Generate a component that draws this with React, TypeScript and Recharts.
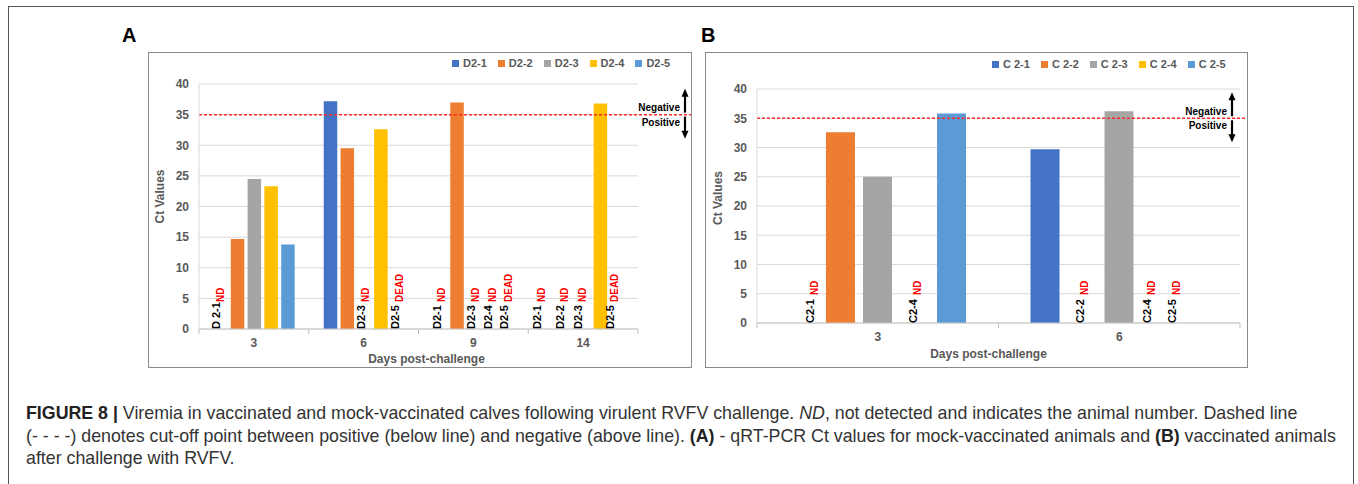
import React from 'react';
import { BarChart, Bar, XAxis, YAxis, CartesianGrid, ReferenceLine, Legend } from 'recharts';

// ---------- data: panel A (mock-vaccinated) ----------
const daysA = ['3', '6', '9', '14'];
const seriesA = ['D2-1', 'D2-2', 'D2-3', 'D2-4', 'D2-5'];
const ctA1 = [null, 37.2, null, null];
const ctA2 = [14.7, 29.5, 37.0, null];
const ctA3 = [24.5, null, null, null];
const ctA4 = [23.3, 32.6, null, 36.8];
const ctA5 = [13.8, null, null, null];
const noteA1 = ['ND', '', 'ND', 'ND'];
const noteA2 = ['', '', '', 'ND'];
const noteA3 = ['', 'ND', 'ND', 'ND'];
const noteA4 = ['', '', 'ND', ''];
const noteA5 = ['', 'DEAD', 'DEAD', 'DEAD'];
const tagA1 = ['D 2-1', '', 'D2-1', 'D2-1'];
const tagA2 = ['', '', '', 'D2-2'];
const tagA3 = ['', 'D2-3', 'D2-3', 'D2-3'];
const tagA4 = ['', '', 'D2-4', ''];
const tagA5 = ['', 'D2-5', 'D2-5', 'D2-5'];

// ---------- data: panel B (vaccinated) ----------
const daysB = ['3', '6'];
const seriesB = ['C 2-1', 'C 2-2', 'C 2-3', 'C 2-4', 'C 2-5'];
const ctB1 = [null, 29.7];
const ctB2 = [32.6, null];
const ctB3 = [25.0, 36.2];
const ctB4 = [null, null];
const ctB5 = [35.8, null];
const noteB1 = ['ND', ''];
const noteB2 = ['', 'ND'];
const noteB3 = ['', ''];
const noteB4 = ['ND', 'ND'];
const noteB5 = ['', 'ND'];
const tagB1 = ['C2-1', ''];
const tagB2 = ['', 'C2-2'];
const tagB3 = ['', ''];
const tagB4 = ['C2-4', 'C2-4'];
const tagB5 = ['', 'C2-5'];

const cutoff = 35;
const yTicks = [0, 5, 10, 15, 20, 25, 30, 35, 40];

// ---------- styling ----------
const colors = ['#4472C4', '#ED7D31', '#A5A5A5', '#FFC000', '#5B9BD5'];
const FONT = "'Liberation Sans', Arial, Helvetica, sans-serif";
const AXIS_GRAY = '#595959';
// small manual nudges of the annotation text boxes (px), keyed "series|day"
const nudgeA: Record<string, number> = { '0|3': -2, '0|14': -10, '1|14': -4, '2|14': -3, '4|14': -4 };
const nudgeB: Record<string, number> = { '0|3': 8, '3|6': -7, '4|6': -19 };

function buildRows(days: string[], values: (number | null)[][], notes: string[][], tags: string[][]) {
  return days.map((d, i) => {
    const row: any = { day: d };
    values.forEach((v, k) => {
      row['v' + k] = v[i];
      row['n' + k] = notes[k][i];
      row['g' + k] = tags[k][i];
    });
    return row;
  });
}

const rowsA = buildRows(
  daysA,
  [ctA1, ctA2, ctA3, ctA4, ctA5],
  [noteA1, noteA2, noteA3, noteA4, noteA5],
  [tagA1, tagA2, tagA3, tagA4, tagA5]
);
const rowsB = buildRows(
  daysB,
  [ctB1, ctB2, ctB3, ctB4, ctB5],
  [noteB1, noteB2, noteB3, noteB4, noteB5],
  [tagB1, tagB2, tagB3, tagB4, tagB5]
);

type TickCfg = {
  rows: any[];
  nSeries: number;
  band: number;
  barSize: number;
  barGap: number;
  rise: number;
  nudges: Record<string, number>;
};

// category tick: day label, boundary tick marks, and the ND / DEAD annotations sitting in empty bar slots
const makeXTick = (c: TickCfg) => (p: any) => {
  const { x, y, payload, index } = p;
  const axisY = y - 10;
  const row = c.rows[index] || {};
  const sum = c.nSeries * c.barSize + (c.nSeries - 1) * c.barGap;
  const offset = Math.floor((c.band - sum) / 2);
  const left = x - c.band / 2;
  const notes: any[] = [];
  for (let k = 0; k < c.nSeries; k++) {
    const note = row['n' + k];
    if (!note) continue;
    const cx = left + offset + k * (c.barSize + c.barGap) + c.barSize / 2 + (c.nudges[`${k}|${row.day}`] || 0);
    const bx = cx + 2;
    const rx = cx + 6;
    const ry = axisY - c.rise;
    notes.push(
      <g key={k}>
        <text x={bx} y={axisY} transform={`rotate(-90 ${bx} ${axisY})`} fontSize={11} fontWeight={700} fill="#000" fontFamily={FONT}>
          {row['g' + k]}
        </text>
        <text x={rx} y={ry} transform={`rotate(-90 ${rx} ${ry})`} fontSize={10} fontWeight={700} fill="#ff0000" fontFamily={FONT}>
          {note}
        </text>
      </g>
    );
  }
  return (
    <g>
      <text x={x} y={axisY + 14} textAnchor="middle" dominantBaseline="central" fontSize={12} fontWeight={700} fill={AXIS_GRAY} fontFamily={FONT}>
        {payload.value}
      </text>
      <line x1={x + c.band / 2} x2={x + c.band / 2} y1={axisY} y2={axisY + 5} stroke="#bfbfbf" />
      {index === 0 ? <line x1={left} x2={left} y1={axisY} y2={axisY + 5} stroke="#bfbfbf" /> : null}
      {notes}
    </g>
  );
};

const ctLabel = (dx: number, dy: number) => (p: any) => {
  const vb = p.viewBox || {};
  const cx = vb.x + vb.width - dx;
  const cy = vb.y + vb.height / 2 + dy;
  return (
    <text x={cx} y={cy} transform={`rotate(-90 ${cx} ${cy})`} textAnchor="middle" dominantBaseline="central" fontSize={12} fontWeight={700} fill={AXIS_GRAY} fontFamily={FONT}>
      Ct Values
    </text>
  );
};

const dayLabel = (dx: number, dy: number) => (p: any) => {
  const vb = p.viewBox || {};
  const cx = vb.x + vb.width / 2 + dx;
  const cy = vb.y + dy;
  return (
    <text x={cx} y={cy} textAnchor="middle" dominantBaseline="central" fontSize={12} fontWeight={700} fill={AXIS_GRAY} fontFamily={FONT}>
      Days post-challenge
    </text>
  );
};

const cutoffShape = (ext: number, arrowDx: number) => (p: any) => {
  const { x1, y1, x2 } = p;
  const y = y1;
  const ax = x2 + arrowDx;
  return (
    <g>
      <line x1={x1} x2={x2 + ext} y1={y} y2={y} stroke="#ff2a2a" strokeWidth={1.5} strokeDasharray="3 2" />
      <line x1={ax} x2={ax} y1={y - 2} y2={y - 19} stroke="#000" strokeWidth={2.2} />
      <polygon points={`${ax},${y - 26} ${ax - 3.5},${y - 18} ${ax + 3.5},${y - 18}`} fill="#000" />
      <line x1={ax} x2={ax} y1={y + 2} y2={y + 17} stroke="#000" strokeWidth={2.2} />
      <polygon points={`${ax},${y + 24} ${ax - 3.5},${y + 16} ${ax + 3.5},${y + 16}`} fill="#000" />
      <text x={ax - 5} y={y - 7} textAnchor="end" dominantBaseline="central" fontSize={10} fontWeight={700} fill="#000" fontFamily={FONT}>
        Negative
      </text>
      <text x={ax - 5} y={y + 7.5} textAnchor="end" dominantBaseline="central" fontSize={10} fontWeight={700} fill="#000" fontFamily={FONT}>
        Positive
      </text>
    </g>
  );
};

const makeLegend = (names: string[]) => () => (
  <div style={{ display: 'flex', alignItems: 'center', fontFamily: FONT, fontSize: 11, fontWeight: 700, color: AXIS_GRAY, whiteSpace: 'nowrap', lineHeight: '13px' }}>
    {names.map((n, k) => (
      <span key={n} style={{ display: 'inline-flex', alignItems: 'center', marginRight: 11 }}>
        <span style={{ display: 'inline-block', width: 7, height: 7, background: colors[k], marginRight: 4 }} />
        {n}
      </span>
    ))}
  </div>
);

type PanelProps = {
  rows: any[];
  names: string[];
  width: number;
  height: number;
  margin: { top: number; right: number; bottom: number; left: number };
  yAxisWidth: number;
  xAxisHeight: number;
  barSize: number;
  barGap: number;
  lineExt: number;
  arrowDx: number;
  titleDx: number;
  titleDy: number;
  ctDx: number;
  ctDy: number;
  rise: number;
  nudges: Record<string, number>;
  legendLeft: number;
  legendTop: number;
};

function Panel(props: PanelProps) {
  const { rows, names, width, height, margin, yAxisWidth, xAxisHeight } = props;
  const band = (width - margin.left - margin.right - yAxisWidth) / rows.length;
  const tick = makeXTick({
    rows,
    nSeries: names.length,
    band,
    barSize: props.barSize,
    barGap: props.barGap,
    rise: props.rise,
    nudges: props.nudges,
  });
  return (
    <BarChart width={width} height={height} data={rows} margin={margin} barSize={props.barSize} barGap={props.barGap}>
      <CartesianGrid vertical={false} stroke="#d9d9d9" />
      <XAxis
        dataKey="day"
        height={xAxisHeight}
        axisLine={{ stroke: '#c8c8c8' }}
        tickLine={false}
        tickSize={0}
        tickMargin={10}
        interval={0}
        tick={tick}
        label={dayLabel(props.titleDx, props.titleDy)}
      />
      <YAxis
        width={yAxisWidth}
        domain={[0, 40]}
        ticks={yTicks}
        interval={0}
        axisLine={{ stroke: '#d9d9d9' }}
        tickLine={false}
        tickSize={0}
        tickMargin={10}
        tick={{ fontSize: 12, fontWeight: 700, fill: AXIS_GRAY, fontFamily: FONT }}
        label={ctLabel(props.ctDx, props.ctDy)}
      />
      <Legend
        layout="vertical"
        align="center"
        verticalAlign="middle"
        content={makeLegend(names)}
        wrapperStyle={{ left: props.legendLeft, top: props.legendTop, width: 'auto', height: 'auto' }}
      />
      {names.map((n, k) => (
        <Bar key={n} dataKey={'v' + k} name={n} fill={colors[k]} isAnimationActive={false} />
      ))}
      <ReferenceLine y={cutoff} shape={cutoffShape(props.lineExt, props.arrowDx)} />
    </BarChart>
  );
}

export default function App() {
  return (
    <div style={{ position: 'absolute', left: 0, top: 0, width: 1358, height: 484, background: '#fff', overflow: 'hidden', fontFamily: FONT }}>
      <div style={{ position: 'absolute', left: 8, top: 6, width: 1346, height: 520, border: '1px solid #555', boxSizing: 'border-box' }} />
      <div style={{ position: 'absolute', left: 122, top: 25, fontSize: 20, lineHeight: '20px', fontWeight: 700, color: '#000' }}>A</div>
      <div style={{ position: 'absolute', left: 701, top: 25, fontSize: 20, lineHeight: '20px', fontWeight: 700, color: '#000' }}>B</div>

      <div style={{ position: 'absolute', left: 148, top: 52 }}>
        <Panel
          rows={rowsA}
          names={seriesA}
          width={544}
          height={316}
          margin={{ top: 32, right: 54, bottom: 1, left: 11 }}
          yAxisWidth={40}
          xAxisHeight={38}
          barSize={13.5}
          barGap={3.3}
          lineExt={54}
          arrowDx={47}
          titleDx={8}
          titleDy={30}
          ctDx={39}
          ctDy={-10}
          rise={27}
          nudges={nudgeA}
          legendLeft={304}
          legendTop={5}
        />
      </div>
      <div style={{ position: 'absolute', left: 148, top: 52, width: 544, height: 316, border: '1px solid #8a8a8a', boxSizing: 'border-box', pointerEvents: 'none' }} />

      <div style={{ position: 'absolute', left: 705, top: 52 }}>
        <Panel
          rows={rowsB}
          names={seriesB}
          width={543}
          height={316}
          margin={{ top: 37, right: 8, bottom: 3, left: 12 }}
          yAxisWidth={40}
          xAxisHeight={42}
          barSize={29}
          barGap={8}
          lineExt={5}
          arrowDx={-8}
          titleDx={-10}
          titleDy={31}
          ctDx={39.5}
          ctDy={-8}
          rise={28}
          nudges={nudgeB}
          legendLeft={287}
          legendTop={6}
        />
      </div>
      <div style={{ position: 'absolute', left: 705, top: 52, width: 543, height: 316, border: '1px solid #8a8a8a', boxSizing: 'border-box', pointerEvents: 'none' }} />

      <div style={{ position: 'absolute', left: 26, top: 402, width: 1326, fontSize: 17.8, lineHeight: '22.5px', color: '#333', whiteSpace: 'nowrap' }}>
        <b style={{ color: '#222' }}>FIGURE 8 |</b> Viremia in vaccinated and mock-vaccinated calves following virulent RVFV challenge. <i>ND</i>, not detected and indicates the animal number. Dashed line
        <br />
        (- - - -) denotes cut-off point between positive (below line) and negative (above line). <b style={{ color: '#222' }}>(A)</b> - qRT-PCR Ct values for mock-vaccinated animals and <b style={{ color: '#222' }}>(B)</b> vaccinated animals
        <br />
        after challenge with RVFV.
      </div>
    </div>
  );
}
